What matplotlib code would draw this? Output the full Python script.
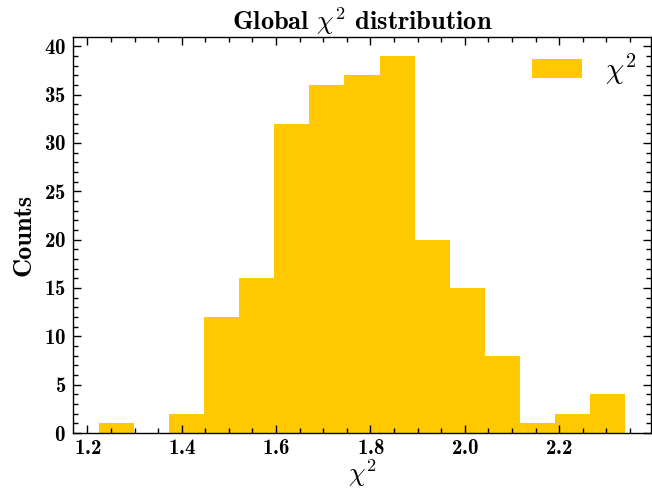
import numpy as np
import matplotlib
matplotlib.use("Agg")
import matplotlib.pyplot as plt
from matplotlib.ticker import AutoMinorLocator, MultipleLocator

# Data
bin_start = 1.2253
bin_width = 0.07425
counts = [1, 0, 2, 12, 16, 32, 36, 37, 39, 20, 15, 8, 1, 2, 4]
edges = bin_start + bin_width * np.arange(len(counts) + 1)
centers = 0.5 * (edges[:-1] + edges[1:])

plt.rcParams['mathtext.fontset'] = 'cm'
plt.rcParams['axes.formatter.use_mathtext'] = True

fig = plt.figure(figsize=(6.52, 4.90), dpi=100)
ax = fig.add_axes([73/652, 57/490, 578/652, 396/490])

ax.hist(centers, bins=edges, weights=counts, color='#FFC800', label=r'$\chi^2$')

ax.xaxis.set_major_locator(MultipleLocator(0.2))
ax.xaxis.set_minor_locator(AutoMinorLocator(4))
ax.yaxis.set_major_locator(MultipleLocator(5))
ax.yaxis.set_minor_locator(AutoMinorLocator(5))
ax.tick_params(which='both', direction='in', top=True, right=True, width=1.0)
ax.tick_params(which='major', length=6, pad=5)
ax.tick_params(axis='x', which='major', pad=4)
ax.tick_params(which='minor', length=3.5)
for s in ax.spines.values():
    s.set_linewidth(1.0)

for lab in ax.get_xticklabels() + ax.get_yticklabels():
    lab.set_fontfamily('cmb10')
    lab.set_fontsize(15)

ax.set_xlabel(r'$\chi^2$', fontsize=19, labelpad=0)
ax.set_ylabel('Counts', fontsize=19, family='cmb10', labelpad=6)
ax.set_title(r'Global $\chi^2$ distribution', fontsize=19, family='cmb10', pad=2)
ax.legend(loc='upper right', frameon=False, fontsize=21, handlelength=1.7,
          handleheight=0.6, borderaxespad=0.1, handletextpad=0.8)

fig.savefig('out.png', dpi=100)
